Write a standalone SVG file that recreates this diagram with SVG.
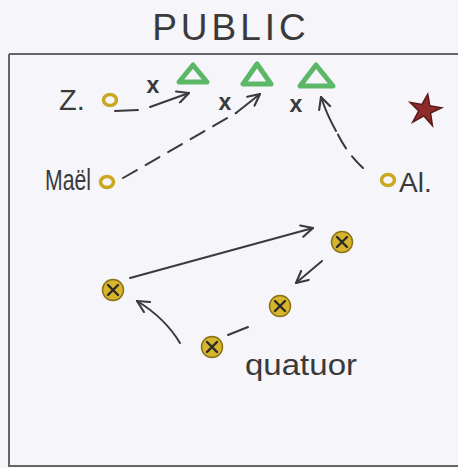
<svg xmlns="http://www.w3.org/2000/svg" width="458" height="468" viewBox="0 0 458 468">
<style>
.hand{font-family:"Liberation Sans","DejaVu Sans",sans-serif;fill:#3a3a3a}
.ln{stroke:#3a3a3a;stroke-width:2;fill:none;stroke-linecap:round}
.dash{stroke-dasharray:16 10}
.tri{fill:none;stroke:#5cb867;stroke-width:5;stroke-linejoin:round}
.ring{fill:none;stroke:#c9a820;stroke-width:3.5}
.q{fill:#d6b52c;stroke:#8a7218;stroke-width:1.5}
.qx{stroke:#2a2a2a;stroke-width:2.4;stroke-linecap:round}
.xm{font-family:"Liberation Sans",sans-serif;font-size:23px;font-weight:bold;fill:#3a3a3a}
</style>
<defs>
<marker id="ah" viewBox="0 0 12 12" refX="11" refY="6" markerWidth="14" markerHeight="14" markerUnits="userSpaceOnUse" orient="auto">
<path d="M1,1 L11,6 L1,11" fill="none" stroke="#3a3a3a" stroke-width="1.8" stroke-linecap="round" stroke-linejoin="round"/>
</marker>
</defs>
<rect width="458" height="468" fill="#f5f5fa"/>
<g id="stage">
<path d="M9,54 L460,54 M9,54 L9,466 L460,466" fill="none" stroke="#666" stroke-width="2"/>
</g>
<g id="public"><text class="hand" x="231" y="40" font-size="37" text-anchor="middle" letter-spacing="4" fill="#555">PUBLIC</text></g>
<g id="tri1"><polygon class="tri" points="193,65 179,82 207,82"/></g>
<g id="tri2"><polygon class="tri" points="257,64 243,84 271,84"/></g>
<g id="tri3"><polygon class="tri" points="316,65 300,86 333,86"/></g>
<g id="x1"><text class="xm" x="153" y="93" text-anchor="middle">x</text></g>
<g id="x2"><text class="xm" x="225" y="110" text-anchor="middle">x</text></g>
<g id="x3"><text class="xm" x="296" y="112" text-anchor="middle">x</text></g>
<g id="star"><polygon points="425,94 429,105 441,105 431,112 435,124 425,116 415,124 419,112 409,105 421,105" fill="#8e2b2b" stroke="#5a1a1a" stroke-width="1.5" transform="rotate(10 425 110)"/></g>
<g id="z">
<text class="hand" x="59" y="110" font-size="29">Z.</text>
<ellipse class="ring" cx="110" cy="100" rx="6.5" ry="5.5"/>
<path class="ln" d="M115,111 L138,110"/>
</g>
<g id="mael">
<text class="hand" x="45" y="190" font-size="30" textLength="46" lengthAdjust="spacingAndGlyphs">Maël</text>
<ellipse class="ring" cx="107" cy="182" rx="6.5" ry="5.5"/>
</g>
<g id="al">
<ellipse class="ring" cx="388" cy="180" rx="6.5" ry="5.5"/>
<text class="hand" x="399" y="192" font-size="28">Al.</text>
</g>
<g id="q1"><circle class="q" cx="342" cy="242" r="10.5"/><path class="qx" d="M337,237 L347,247 M347,237 L337,247"/></g>
<g id="q2"><circle class="q" cx="113" cy="290" r="10.5"/><path class="qx" d="M108,285 L118,295 M118,285 L108,295"/></g>
<g id="q3"><circle class="q" cx="280" cy="306" r="10.5"/><path class="qx" d="M275,301 L285,311 M285,301 L275,311"/></g>
<g id="q4"><circle class="q" cx="212" cy="347" r="10.5"/><path class="qx" d="M207,342 L217,352 M217,342 L207,352"/></g>
<g id="quatuor"><text class="hand" x="245" y="375" font-size="30" textLength="112" lengthAdjust="spacingAndGlyphs">quatuor</text></g>
<g id="connectors">
<path class="ln" d="M150,107 L189,93" marker-end="url(#ah)"/>
<path class="ln dash" d="M123,178 L236,113"/>
<path class="ln" d="M236,113 L260,94" marker-end="url(#ah)"/>
<path class="ln dash" d="M363,168 Q344,150 335,128"/>
<path class="ln" d="M336,131 Q327,115 321,97" marker-end="url(#ah)"/>
<path class="ln" d="M130,278 L313,228" marker-end="url(#ah)"/>
<path class="ln" d="M322,261 L296,283" marker-end="url(#ah)"/>
<path class="ln" d="M180,343 Q165,318 137,301" marker-end="url(#ah)"/>
<path class="ln" d="M228,335 L248,327"/>
</g>
</svg>
